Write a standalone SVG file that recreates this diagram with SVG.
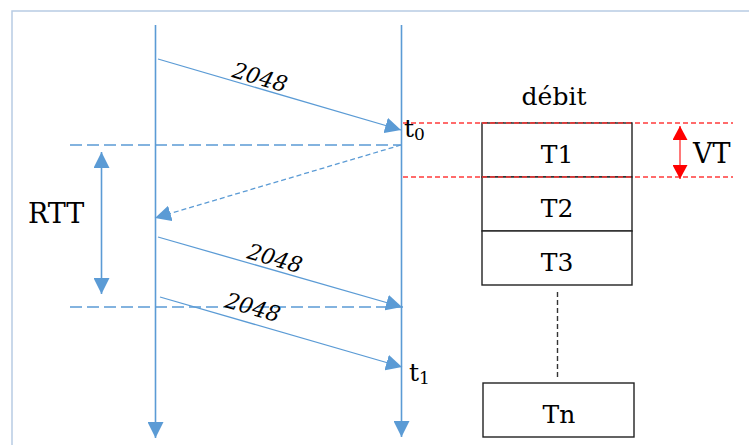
<svg xmlns="http://www.w3.org/2000/svg" width="749" height="445" viewBox="0 0 749 445">
<defs>
<style>
.life{stroke:#5b9bd5;stroke-width:1.6;fill:none}
.msg{stroke:#5b9bd5;stroke-width:1.3;fill:none}
.hdash{stroke:#5b9bd5;stroke-width:1.5;stroke-dasharray:12 5;fill:none}
.rdash{stroke:#ff3b3b;stroke-width:1.3;stroke-dasharray:5 3;fill:none}
.box{fill:#fff;stroke:#222;stroke-width:1.4}
text{font-family:'DejaVu Serif',serif;fill:#000}
.num{font-size:22px;font-style:italic;text-anchor:middle}
.cell{font-size:25px;text-anchor:middle}
</style>
<marker id="ab" markerUnits="userSpaceOnUse" markerWidth="16" markerHeight="16" refX="15" refY="7.5" orient="auto-start-reverse" viewBox="0 0 15 15">
<path d="M0,0 L15,7.5 L0,15 z" fill="#5b9bd5"/>
</marker>
<marker id="ar" markerUnits="userSpaceOnUse" markerWidth="14" markerHeight="15" refX="13" refY="7" orient="auto-start-reverse" viewBox="0 0 13 14">
<path d="M0,0 L13,7 L0,14 z" fill="#ff0000"/>
</marker>
</defs>
<rect width="749" height="445" fill="#fff"/>
<path d="M12,445 V11 H749" fill="none" stroke="#b8cce4" stroke-width="1.5"/>

<g id="connectors">
<line class="life" x1="155.5" y1="25" x2="155.5" y2="438" marker-end="url(#ab)"/>
<line class="life" x1="401.5" y1="25" x2="401.5" y2="437" marker-end="url(#ab)"/>
<line class="hdash" x1="70" y1="145" x2="401" y2="145"/>
<line class="hdash" x1="70" y1="307" x2="403" y2="307"/>
<line class="msg" x1="158" y1="59" x2="401" y2="130" marker-end="url(#ab)"/>
<line class="msg" x1="401" y1="145" x2="155" y2="218" stroke-dasharray="5 3" marker-end="url(#ab)"/>
<line class="msg" x1="158" y1="237" x2="402" y2="307" marker-end="url(#ab)"/>
<line class="msg" x1="160" y1="297" x2="402" y2="367" marker-end="url(#ab)"/>
<line class="life" x1="101.5" y1="152" x2="101.5" y2="294" marker-start="url(#ab)" marker-end="url(#ab)"/>
<line class="rdash" x1="403" y1="123" x2="733" y2="123"/>
<line class="rdash" x1="403" y1="177" x2="733" y2="177"/>
<line x1="680" y1="126" x2="680" y2="179" stroke="#ff4d4d" stroke-width="1.5" marker-start="url(#ar)" marker-end="url(#ar)"/>
<line x1="557.5" y1="292" x2="557.5" y2="377" stroke="#333" stroke-width="1.4" stroke-dasharray="5 3"/>
</g>

<g id="label-2048-a" transform="translate(260,77) rotate(16.3)"><text class="num" x="0" y="8">2048</text></g>
<g id="label-2048-b" transform="translate(275,258) rotate(16)"><text class="num" x="0" y="8">2048</text></g>
<g id="label-2048-c" transform="translate(253,307) rotate(16)"><text class="num" x="0" y="8">2048</text></g>

<g id="label-t0"><text x="404" y="137" font-size="25">t<tspan font-size="17" dy="3">0</tspan></text></g>
<g id="label-t1"><text x="409" y="381" font-size="25">t<tspan font-size="17" dy="3">1</tspan></text></g>
<g id="label-rtt"><text x="28" y="223" font-size="27">RTT</text></g>
<g id="label-debit"><text x="554" y="105" font-size="25" text-anchor="middle">débit</text></g>
<g id="label-vt"><text x="693" y="163" font-size="27">VT</text></g>

<g id="node-T1"><rect class="box" x="482" y="123" width="150" height="54"/><text class="cell" x="557" y="163">T1</text></g>
<g id="node-T2"><rect class="box" x="482" y="177" width="150" height="54"/><text class="cell" x="557" y="217">T2</text></g>
<g id="node-T3"><rect class="box" x="482" y="231" width="150" height="54"/><text class="cell" x="557" y="271">T3</text></g>
<g id="node-Tn"><rect class="box" x="483" y="383" width="151" height="54"/><text class="cell" x="559" y="423">Tn</text></g>
<g id="red-lines-overlay"><line class="rdash" x1="482" y1="123" x2="632" y2="123"/><line class="rdash" x1="482" y1="177" x2="632" y2="177"/></g>
</svg>
